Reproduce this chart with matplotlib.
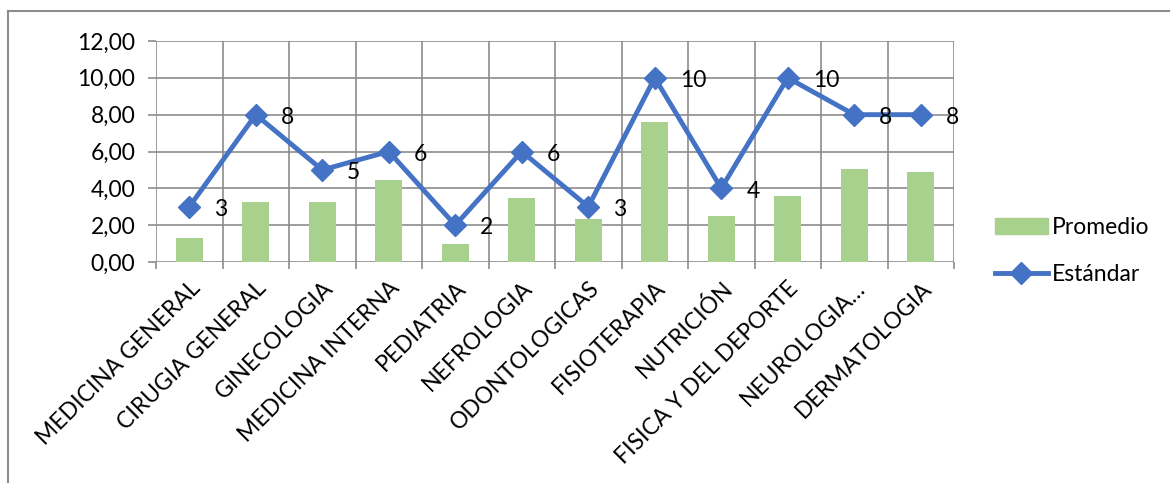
import matplotlib
matplotlib.use('Agg')
import matplotlib.pyplot as plt
from matplotlib.lines import Line2D
from matplotlib.patches import Patch
from matplotlib.ticker import FuncFormatter

categories = ['MEDICINA GENERAL', 'CIRUGIA GENERAL', 'GINECOLOGIA', 'MEDICINA INTERNA',
              'PEDIATRIA', 'NEFROLOGIA', 'ODONTOLOGICAS', 'FISIOTERAPIA', 'NUTRICIÓN',
              'FISICA Y DEL DEPORTE', 'NEUROLOGIA…', 'DERMATOLOGIA']
promedio = [1.3, 3.25, 3.25, 4.45, 1.0, 3.47, 2.35, 7.6, 2.5, 3.6, 5.03, 4.9]
estandar = [3, 8, 5, 6, 2, 6, 3, 10, 4, 10, 8, 8]

BAR = '#A9D18E'
LINE = '#4472C4'
GRID = '#8C8C8C'
FS = 16.5

plt.rcParams['font.family'] = ['Lato', 'DejaVu Sans']

W, H = 1170, 483
fig = plt.figure(figsize=(W / 100, H / 100), dpi=100)
ax = fig.add_axes([156 / W, 1 - 262 / H, (954 - 156) / W, (262 - 41) / H])

x = list(range(len(categories)))
ax.bar(x, promedio, width=0.4, color=BAR, zorder=2)
ax.plot(x, estandar, color=LINE, lw=3.5, marker='D', markersize=11.5, zorder=3)
for xi, v in zip(x, estandar):
    ax.annotate(str(v), (xi, v), xytext=(18, -2), textcoords='offset points',
                ha='left', va='center', fontsize=FS, color='black', zorder=4)

ax.set_xlim(-0.5, len(categories) - 0.5)
ax.set_ylim(0, 12)
ax.set_yticks(range(0, 13, 2))
ax.yaxis.set_major_formatter(FuncFormatter(lambda v, p: '{:.2f}'.format(v).replace('.', ',')))

# gridlines between categories
bounds = [i - 0.5 for i in range(len(categories) + 1)]
for b in bounds:
    ax.axvline(b, color=GRID, lw=1.2, zorder=1)
for yv in range(0, 13, 2):
    ax.axhline(yv, color=GRID, lw=1.2, zorder=1)

ax.set_xticks(bounds, minor=True)
ax.set_xticks(x)
ax.set_xticklabels(categories, rotation=45, ha='right', va='top',
                   rotation_mode='anchor', fontsize=FS)
ax.tick_params(axis='x', which='major', length=0, pad=11)
ax.tick_params(axis='x', which='minor', length=5, color=GRID, width=1.2)
ax.tick_params(axis='y', length=6, color=GRID, width=1.2, labelsize=FS, pad=9)

for s in ax.spines.values():
    s.set_visible(False)

handles = [Patch(color=BAR, label='Promedio'),
           Line2D([0], [0], color=LINE, lw=3.5, marker='D', markersize=11.5, label='Estándar')]
fig.legend(handles=handles, loc='center left', bbox_to_anchor=(995 / W, 1 - 251 / H),
           frameon=False, fontsize=FS, handlelength=2.3, labelspacing=1.15,
           handletextpad=0.2, borderaxespad=0, borderpad=0)

# chart frame (left and top edges visible)
bx, by = 7.5 / W, 1 - 11 / H
fig.add_artist(Line2D([bx, bx], [0, by], transform=fig.transFigure, color=GRID, lw=1.5))
fig.add_artist(Line2D([bx, 1], [by, by], transform=fig.transFigure, color=GRID, lw=1.5))

fig.savefig('out.png', dpi=100)
